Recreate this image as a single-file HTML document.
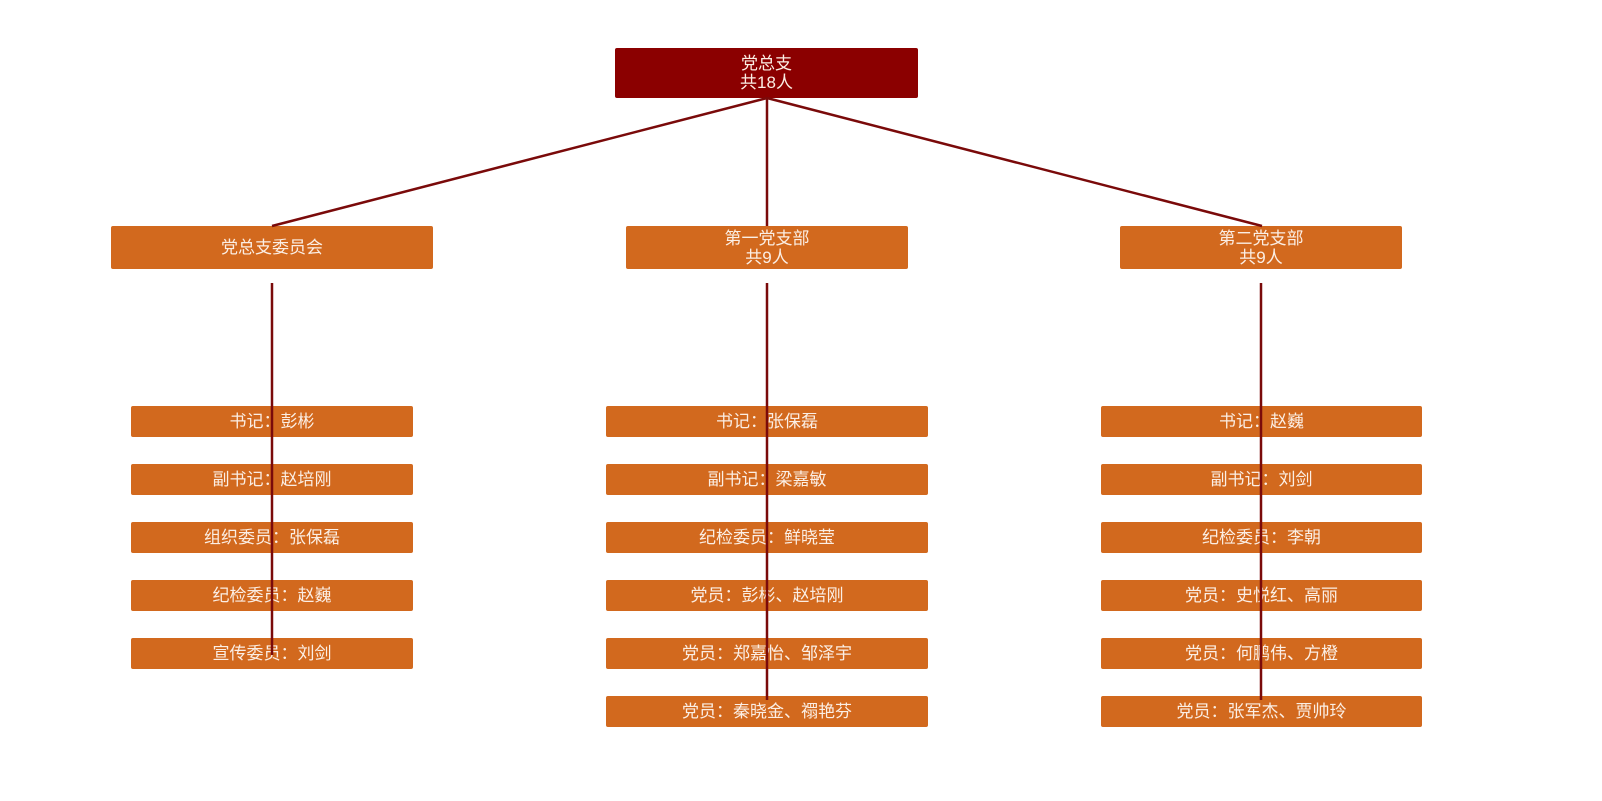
<!DOCTYPE html>
<html><head><meta charset="utf-8"><style>
body{margin:0;width:1602px;height:801px;background:#fff;position:relative;overflow:hidden;font-family:"Liberation Sans","Noto Sans CJK SC",sans-serif;}
.b{position:absolute;background:#d2691e;color:#fbeee4;font-size:17px;display:flex;align-items:center;justify-content:center;text-align:center;line-height:19px;border-radius:2px;}
.t{background:#8b0000;}
svg{position:absolute;left:0;top:0;}
</style></head><body>
<div class="b t" style="left:615px;top:48px;width:303px;height:50px">党总支<br>共18人</div>
<div class="b" style="left:111px;top:226px;width:322px;height:43px">党总支委员会</div>
<div class="b" style="left:626px;top:226px;width:282px;height:43px">第一党支部<br>共9人</div>
<div class="b" style="left:1120px;top:226px;width:282px;height:43px">第二党支部<br>共9人</div>

<div class="b" style="left:131px;top:406px;width:282px;height:31px">书记：彭彬</div>
<div class="b" style="left:131px;top:464px;width:282px;height:31px">副书记：赵培刚</div>
<div class="b" style="left:131px;top:522px;width:282px;height:31px">组织委员：张保磊</div>
<div class="b" style="left:131px;top:580px;width:282px;height:31px">纪检委员：赵巍</div>
<div class="b" style="left:131px;top:638px;width:282px;height:31px">宣传委员：刘剑</div>

<div class="b" style="left:606px;top:406px;width:322px;height:31px">书记：张保磊</div>
<div class="b" style="left:606px;top:464px;width:322px;height:31px">副书记：梁嘉敏</div>
<div class="b" style="left:606px;top:522px;width:322px;height:31px">纪检委员：鲜晓莹</div>
<div class="b" style="left:606px;top:580px;width:322px;height:31px">党员：彭彬、赵培刚</div>
<div class="b" style="left:606px;top:638px;width:322px;height:31px">党员：郑嘉怡、邹泽宇</div>
<div class="b" style="left:606px;top:696px;width:322px;height:31px">党员：秦晓金、禤艳芬</div>

<div class="b" style="left:1101px;top:406px;width:321px;height:31px">书记：赵巍</div>
<div class="b" style="left:1101px;top:464px;width:321px;height:31px">副书记：刘剑</div>
<div class="b" style="left:1101px;top:522px;width:321px;height:31px">纪检委员：李朝</div>
<div class="b" style="left:1101px;top:580px;width:321px;height:31px">党员：史悦红、高丽</div>
<div class="b" style="left:1101px;top:638px;width:321px;height:31px">党员：何鹏伟、方橙</div>
<div class="b" style="left:1101px;top:696px;width:321px;height:31px">党员：张军杰、贾帅玲</div>

<svg width="1602" height="801">
<g stroke="#7a0a0a" stroke-width="2.5" fill="none">
<line x1="767" y1="98" x2="272" y2="226"/>
<line x1="767" y1="98" x2="767" y2="226"/>
<line x1="767" y1="98" x2="1262" y2="226"/>
<line x1="272" y1="283" x2="272" y2="655"/>
<line x1="767" y1="283" x2="767" y2="700"/>
<line x1="1261" y1="283" x2="1261" y2="700"/>
</g></svg>
</body></html>
